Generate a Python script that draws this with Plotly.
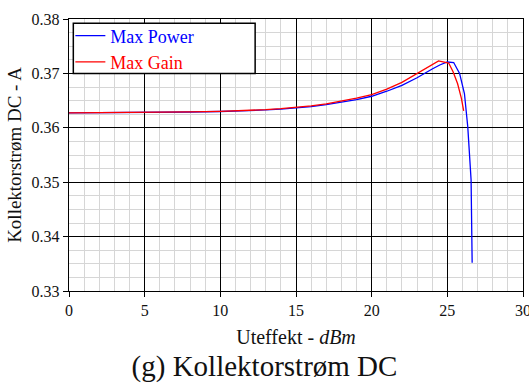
import plotly.graph_objects as go

# Output power sweep (dBm) and DC collector current (A) for the two matching cases
x_power = [0, 2, 4, 6, 8, 10, 11, 12, 13, 14, 15, 16, 17, 18, 19, 20, 21, 22, 23,
           24, 24.5, 25.0, 25.42, 25.81, 26.13, 26.35, 26.5, 26.57, 26.64]
i_power = [0.36275, 0.36277, 0.3628, 0.36284, 0.3629, 0.36300, 0.36307, 0.36316,
           0.36328, 0.36344, 0.36364, 0.36390, 0.36424, 0.36466, 0.36518, 0.36580,
           0.36672, 0.36780, 0.36920, 0.37080, 0.37155, 0.37210, 0.37200, 0.37000,
           0.36630, 0.36020, 0.35450, 0.35040, 0.33520]

x_gain = [0, 2, 4, 6, 8, 10, 11, 12, 13, 14, 15, 16, 17, 18, 19, 20, 21, 22, 23,
          23.5, 24, 24.42, 25.09, 25.38, 25.68, 25.93, 26.08]
i_gain = [0.36275, 0.36277, 0.3628, 0.36285, 0.36292, 0.36303, 0.36311, 0.36321,
          0.36334, 0.36352, 0.36374, 0.36402, 0.36440, 0.36488, 0.36545, 0.36612,
          0.36710, 0.36835, 0.37000, 0.37085, 0.37165, 0.37230, 0.37190, 0.37030,
          0.36810, 0.36540, 0.36310]

series_names = ["Max Power", "Max Gain"]
series_colors = ["#0000ff", "#ff0000"]

x_ticks = [0, 5, 10, 15, 20, 25, 30]
y_ticks = [0.33, 0.34, 0.35, 0.36, 0.37, 0.38]

FONT = "Liberation Serif"

fig = go.Figure()
for xs, ys, name, col in [(x_power, i_power, series_names[0], series_colors[0]),
                          (x_gain, i_gain, series_names[1], series_colors[1])]:
    fig.add_trace(go.Scatter(
        x=xs, y=ys, mode="lines",
        name=f"<span style='color:{col}'>{name}</span>",
        line=dict(color=col, width=1.3),
    ))

# white framed box behind the legend entries
fig.add_shape(type="rect", xref="paper", yref="paper",
              x0=0.0095, x1=0.410, y0=0.800, y1=0.984,
              fillcolor="white", line=dict(color="black", width=1.5),
              layer="above")

axis_common = dict(
    showgrid=True, gridcolor="black", gridwidth=1.4, automargin=False,
    zeroline=False, showline=True, mirror=True, linecolor="black", linewidth=1.4,
    ticks="outside", ticklen=5, tickcolor="black", tickwidth=1.2,
    tickfont=dict(family=FONT, size=16, color="#111"),
)

fig.update_xaxes(
    range=[0, 30], tickvals=x_ticks, ticktext=[str(v) for v in x_ticks],
    ticklabeloverflow="allow",
    minor=dict(dtick=1, showgrid=True, gridcolor="#d6d6d6", gridwidth=1, ticks=""),
    title=dict(text="Uteffekt - <i>dBm</i>", font=dict(family=FONT, size=20, color="#111"),
               standoff=11),
    **axis_common,
)
fig.update_yaxes(
    range=[0.33, 0.38], tickvals=y_ticks, ticktext=[f"{v:.2f}" for v in y_ticks],
    minor=dict(dtick=0.0025, tick0=0.33, showgrid=True, gridcolor="#d6d6d6",
               gridwidth=1, ticks=""),
    title=dict(text="Kollektorstrøm DC - A", font=dict(family=FONT, size=19, color="#111"),
               standoff=4),
    **axis_common,
)

fig.update_layout(
    width=529, height=383,
    margin=dict(l=69, r=6, t=19, b=92),
    paper_bgcolor="white", plot_bgcolor="white",
    font=dict(family=FONT, color="#111"),
    title=dict(text="(g) Kollektorstrøm DC", x=0.5, xanchor="center",
               y=0.044, yref="container", yanchor="middle",
               font=dict(family=FONT, size=29, color="#111")),
    legend=dict(x=0.003, y=1.006, xanchor="left", yanchor="top",
                bgcolor="rgba(0,0,0,0)", borderwidth=0,
                font=dict(family=FONT, size=18), itemwidth=30,
                tracegroupgap=0),
    showlegend=True,
)

fig.write_html("out.html")
